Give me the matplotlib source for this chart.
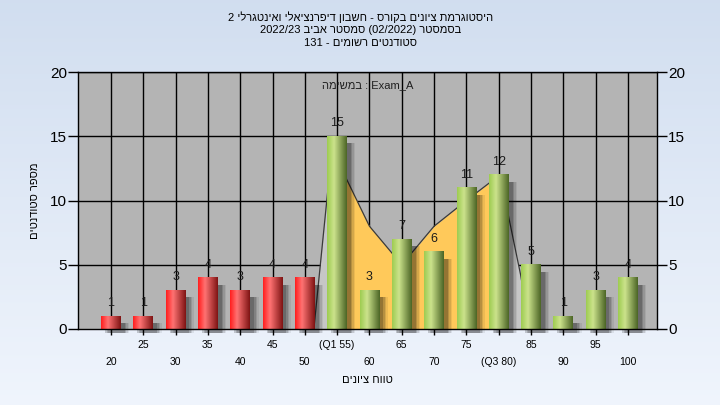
import numpy as np
import matplotlib
matplotlib.use("Agg")
import matplotlib.pyplot as plt
from matplotlib.patches import Rectangle

plt.rcParams['font.family'] = ['Liberation Sans', 'DejaVu Sans']

# data
scores = [20, 25, 30, 35, 40, 45, 50, 55, 60, 65, 70, 75, 80, 85, 90, 95, 100]
counts = [1, 1, 3, 4, 3, 4, 4, 15, 3, 7, 6, 11, 12, 5, 1, 3, 4]
tick_labels = ['20', '25', '30', '35', '40', '45', '50', '(Q1 55)', '60', '65',
               '70', '75', '(Q3 80)', '85', '90', '95', '100']
pass_score = 55
q1, q3 = 55, 80
# outline of the shaded distribution area behind the bars
curve_x = [51.4, 54.2, 60, 65, 70, 75, 80.2, 83.4, 84.8]
curve_y = [0, 14, 8, 5, 8, 10, 12, 4.2, 0]

title_lines = ["היסטוגרמת ציונים בקורס - חשבון דיפרנציאלי ואינטגרלי 2",
               "בסמסטר (02/2022) סמסטר אביב 2022/23",
               "סטודנטים רשומים - 131"]
task_label = "Exam_A : במשימה"
ylabel = "מספר סטודנטים"
xlabel = "טווח ציונים"


def heb(s):
    # very small bidi: right-to-left word order, hebrew words reversed
    out = []
    for tok in s.split(" ")[::-1]:
        if any("\u0590" <= c <= "\u05ff" for c in tok):
            tok = tok[::-1]
        out.append(tok)
    return " ".join(out)


def bar_gradient(kind, n=40):
    t = np.linspace(0, 1, n)
    if kind == "red":
        stops = [(0.0, (1.00, 0.12, 0.12)), (0.35, (1.00, 0.45, 0.45)),
                 (1.0, (0.50, 0.08, 0.08))]
    else:
        stops = [(0.0, (0.62, 0.80, 0.32)), (0.35, (0.80, 0.89, 0.55)),
                 (1.0, (0.30, 0.40, 0.15))]
    xs = [p for p, _ in stops]
    rgb = np.stack([np.interp(t, xs, [c[i] for _, c in stops]) for i in range(3)], axis=-1)
    return rgb[np.newaxis, :, :]


fig = plt.figure(figsize=(7.2, 4.05), dpi=100)

# light blue background gradient
bg = fig.add_axes([0, 0, 1, 1], zorder=-10)
grad = np.linspace(0, 1, 256)[:, None]
top = np.array([0.82, 0.87, 0.94])
bot = np.array([0.94, 0.96, 0.99])
bg.imshow(top + (bot - top) * grad[:, :, None] * np.ones((1, 2, 1)), aspect='auto',
          extent=(0, 1, 0, 1))
bg.axis('off')

ax = fig.add_axes([78 / 720, 1 - 329 / 405, 579 / 720, 257 / 405])
ax.set_facecolor('#b4b4b4')

xlo, xhi = 14.9, 104.5
ax.set_xlim(xlo, xhi)
ax.set_ylim(0, 20)

# grid
for s in scores:
    ax.axvline(s, color='black', lw=1.0, zorder=1)
for v in [5, 10, 15, 20]:
    ax.axhline(v, color='black', lw=1.0, zorder=1)

# distribution area: grey outside quartiles, orange inside
xx = np.linspace(curve_x[0], curve_x[-1], 500)
yy = np.interp(xx, curve_x, curve_y)
ax.fill_between(xx, 0, yy, color='#c6c6c6', lw=0, zorder=2)
ax.fill_between(xx, 0, yy, where=(xx >= q1) & (xx <= q3), color='#ffc95a', lw=0, zorder=2)
ax.plot(curve_x, curve_y, color='#3a3a3a', lw=0.9, zorder=2.5)

bw = 3.05
px_x = (xhi - xlo) / 579
px_y = 20 / 257
for s, c in zip(scores, counts):
    x0 = s - bw / 2
    # soft shadow to the right
    for k, a in enumerate([0.18, 0.14, 0.10, 0.07]):
        off = (2 + 1.5 * k) * px_x
        ax.add_patch(Rectangle((x0 + off + 2 * px_x, -4 * px_y), bw,
                               c - 3 * px_y, color='black', alpha=a, lw=0,
                               zorder=3, clip_on=False))
    kind = "red" if s < pass_score else "green"
    ax.imshow(bar_gradient(kind), extent=(x0, x0 + bw, 0, c), aspect='auto',
              zorder=4, interpolation='bilinear')
    ax.text(s, c + 7 * px_y, str(c), ha='center', va='bottom', fontsize=9,
            color='#1a1a1a', zorder=6)

ax.set_xlim(xlo, xhi)
ax.set_ylim(0, 20)

# axes and ticks
for sp in ax.spines.values():
    sp.set_color('black')
    sp.set_linewidth(1.0)
    sp.set_zorder(5)
ax.set_yticks([0, 5, 10, 15, 20])
ax.tick_params(axis='y', which='both', left=True, right=True, labelleft=True,
               labelright=True, direction='out', length=7, width=1.0,
               labelsize=11, colors='black', pad=1)
ax.set_xticks(scores)
ax.set_xticklabels([])
ax.tick_params(axis='x', direction='out', length=4, width=1.0)

trans = ax.get_xaxis_transform()
for i, (s, lab) in enumerate(zip(scores, tick_labels)):
    yrow = -0.063 if i % 2 == 1 else -0.128
    ax.text(s, yrow, lab, transform=trans, ha='center', va='center', fontsize=7.5,
            color='black')

ax.text(0.5, 0.949, heb(task_label), transform=ax.transAxes, ha='center',
        va='center', fontsize=8, color='#202020', zorder=6)

fig.text(35 / 720, 1 - 201 / 405, heb(ylabel), rotation=90, ha='center',
         va='center', fontsize=8, color='black')
fig.text(367 / 720, 1 - 380 / 405, heb(xlabel), ha='center', va='center',
         fontsize=8, color='black')

for i, line in enumerate(title_lines):
    fig.text(361 / 720, 1 - (17 + 13 * i) / 405, heb(line), ha='center',
             va='center', fontsize=8, color='black')

fig.savefig("out.png", dpi=100)
